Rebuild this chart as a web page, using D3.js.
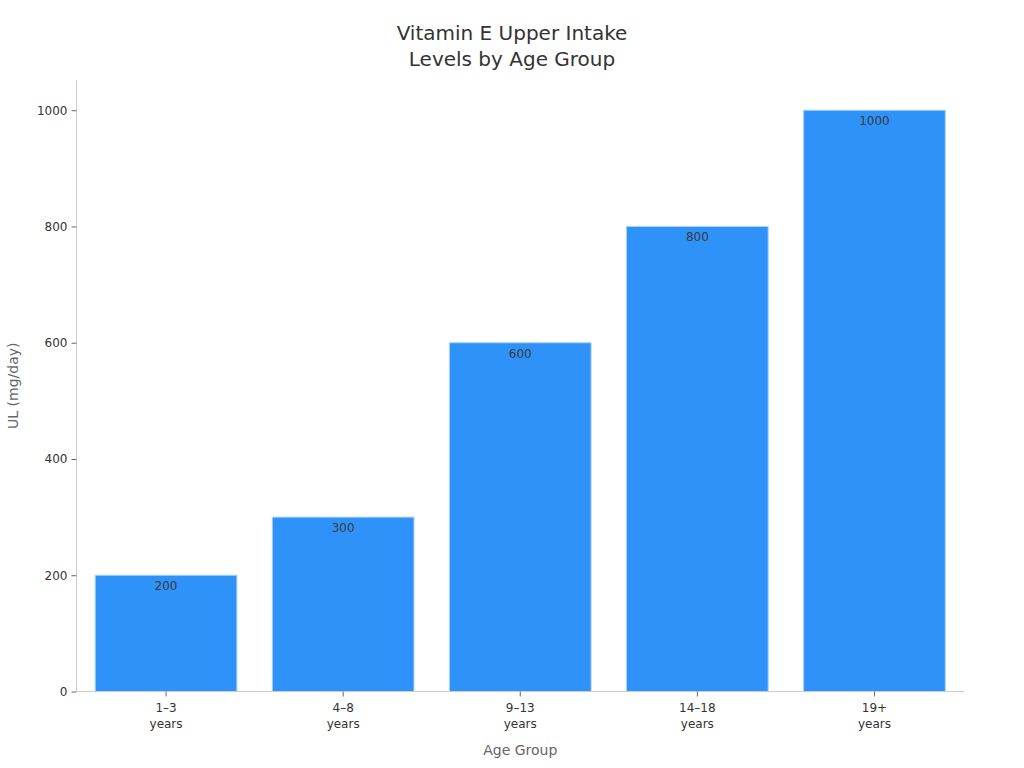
<!DOCTYPE html>
<html><head><meta charset="utf-8">
<script src="https://cdn.jsdelivr.net/npm/d3@7"></script>
<style>body{margin:0;background:#fff;font-family:"DejaVu Sans",sans-serif;}</style>
</head><body><svg id="c" width="1024" height="768"></svg>
<script>
const categories = ["1–3 years","4–8 years","9–13 years","14–18 years","19+ years"];
const values = [200,300,600,800,1000];
const yTicks = [0,200,400,600,800,1000];
const titleLines = ["Vitamin E Upper Intake","Levels by Age Group"];

const svg = d3.select("#c");
const m = {left:76.5, right:964, top:80, bottom:691.5};
const x = d3.scaleBand().domain(categories).range([m.left+1,m.right-1]).paddingInner(0.2).paddingOuter(0.1);
const y = d3.scaleLinear().domain([0,1052]).range([m.bottom,m.top]);

svg.append("g").selectAll("rect").data(values).join("rect")
  .attr("x",(d,i)=>x(categories[i])).attr("width",x.bandwidth())
  .attr("y",d=>y(d)).attr("height",d=>y(0)-y(d))
  .attr("fill","#2f92f8").attr("stroke","#a9d2fb").attr("stroke-width",1);

svg.append("g").selectAll("text").data(values).join("text")
  .attr("x",(d,i)=>x(categories[i])+x.bandwidth()/2).attr("y",d=>y(d)+15)
  .attr("text-anchor","middle").attr("font-size",12).attr("fill","#3a3a3a").text(d=>d);

const ya = svg.append("g").attr("transform",`translate(${m.left},0)`)
  .call(d3.axisLeft(y).tickValues(yTicks).tickFormat(d3.format("d")).tickSize(5).tickPadding(4));
ya.select(".domain").attr("stroke","#ccc").attr("d",`M0,${m.top}V${m.bottom}`);
ya.selectAll(".tick line").attr("stroke","#666");
ya.selectAll(".tick text").attr("font-size",12).attr("fill","#333").attr("font-family","DejaVu Sans");

const xa = svg.append("g").attr("transform",`translate(0,${m.bottom})`)
  .call(d3.axisBottom(x).tickSize(5).tickFormat(""));
xa.select(".domain").attr("stroke","#ccc").attr("d",`M${m.left},0H${m.right}`);
xa.selectAll(".tick line").attr("stroke","#666");
xa.selectAll(".tick").each(function(d){
  const parts = d.split(" ");
  const t = d3.select(this).append("text").attr("fill","#333").attr("font-size",12)
    .attr("text-anchor","middle").attr("font-family","DejaVu Sans");
  parts.forEach((p,i)=>t.append("tspan").attr("x",0).attr("y",20+i*16).text(p));
});

svg.append("text").attr("x",(m.left+m.right)/2).attr("y",755).attr("text-anchor","middle")
  .attr("font-size",14).attr("fill","#666").text("Age Group");
svg.append("text").attr("transform",`translate(18,${(m.top+m.bottom)/2}) rotate(-90)`)
  .attr("text-anchor","middle").attr("font-size",14).attr("fill","#666").text("UL (mg/day)");

const tt = svg.append("text").attr("text-anchor","middle").attr("font-size",20).attr("fill","#333");
titleLines.forEach((l,i)=>tt.append("tspan").attr("x",512).attr("y",40+i*26).text(l));
</script></body></html>
